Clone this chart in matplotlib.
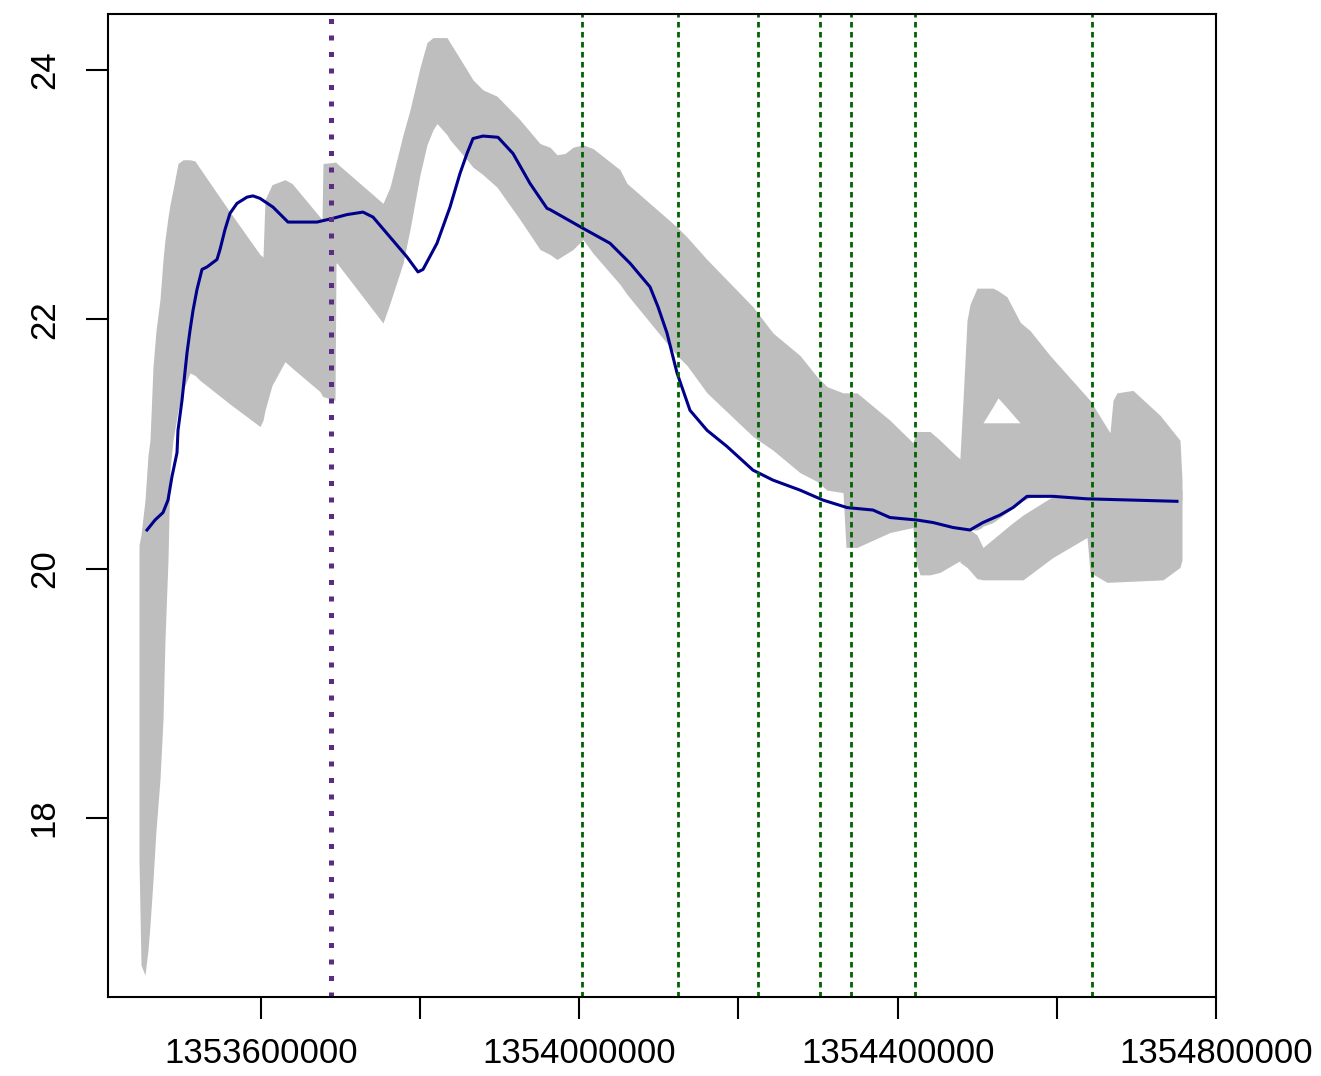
"""
Posterior band with fitted curve and changepoint markers
"""

import numpy as np
import matplotlib
matplotlib.use('Agg')
import matplotlib.pyplot as plt

plt.rcParams['font.family'] = ['Liberation Sans', 'DejaVu Sans']

# Gray band: main part (time, lower, upper)
band_t = [1353446750, 1353449260, 1353454290, 1353458060, 1353460570, 1353464340,
          1353468110, 1353473140, 1353476910, 1353479420, 1353483190, 1353485700,
          1353489470, 1353495760, 1353502040, 1353510830, 1353517120, 1353523400,
          1353561090, 1353598790, 1353602560, 1353605070, 1353613870, 1353630200,
          1353639000, 1353674180, 1353676690, 1353677950, 1353693030, 1353694280,
          1353695540, 1353724440, 1353753340, 1353762130, 1353778470, 1353787260,
          1353799830, 1353808620, 1353816160, 1353821190, 1353833750, 1353837520,
          1353858880, 1353866420, 1353878990, 1353896580, 1353925480, 1353950610,
          1353963170, 1353971970, 1353982020, 1353992070, 1354004640, 1354017200,
          1354051130, 1354059920, 1354122750, 1354135310, 1354160440, 1354218240,
          1354243370, 1354277300, 1354298660, 1354311220, 1354331330, 1354335100,
          1354348920, 1354390380, 1354419280, 1354423050, 1354428080, 1354440640,
          1354453210, 1354474570, 1354480850]
band_hi = [20.19, 20.27, 20.55, 20.91, 21.03, 21.62,
           21.91, 22.16, 22.48, 22.64, 22.82, 22.92,
           23.04, 23.25, 23.28, 23.28, 23.27, 23.21,
           22.86, 22.52, 22.50, 22.96, 23.08, 23.12,
           23.09, 22.82, 22.80, 23.25, 23.26, 23.26,
           23.25, 23.09, 22.93, 23.06, 23.48, 23.68,
           24.02, 24.22, 24.26, 24.26, 24.26, 24.22,
           24.00, 23.92, 23.84, 23.79, 23.60, 23.41,
           23.38, 23.32, 23.33, 23.38, 23.40, 23.37,
           23.20, 23.09, 22.74, 22.66, 22.48, 22.10,
           21.89, 21.71, 21.54, 21.46, 21.41, 21.41,
           21.41, 21.19, 21.01, 21.10, 21.10, 21.10,
           21.03, 20.90, 20.87]
band_lo = [17.66, 16.82, 16.74, 16.94, 17.14, 17.50,
           17.90, 18.31, 18.79, 19.43, 20.07, 20.79,
           21.03, 21.27, 21.43, 21.57, 21.55, 21.51,
           21.32, 21.14, 21.19, 21.27, 21.47, 21.66,
           21.61, 21.42, 21.39, 21.38, 21.35, 22.45,
           22.45, 22.21, 21.97, 22.13, 22.45, 22.72,
           23.16, 23.40, 23.52, 23.57, 23.48, 23.44,
           23.28, 23.22, 23.16, 23.06, 22.80, 22.56,
           22.52, 22.48, 22.52, 22.56, 22.64, 22.53,
           22.28, 22.20, 21.71, 21.63, 21.41, 21.06,
           20.95, 20.77, 20.70, 20.63, 20.61, 20.17,
           20.17, 20.29, 20.33, 20.05, 19.95, 19.95,
           19.97, 20.05, 20.07]

# Gray band: upper lobe at the right end (above the small gap)
lobe1_t = [1354478340, 1354482110, 1354487130, 1354490900, 1354499700, 1354505980,
           1354507240, 1354519800, 1354526090, 1354537390, 1354553730, 1354554990,
           1354566290, 1354591420, 1354641680, 1354666810, 1354670580, 1354675610,
           1354695710, 1354729640, 1354754770, 1354757280]
lobe1_hi = [20.90, 21.35, 21.99, 22.12, 22.25, 22.25,
            22.25, 22.25, 22.23, 22.18, 21.98, 21.97,
            21.91, 21.71, 21.35, 21.09, 21.35, 21.41,
            21.43, 21.23, 21.03, 20.71]
lobe1_lo = [20.35, 20.33, 20.33, 20.31, 20.31, 20.33,
            21.17, 21.30, 21.37, 21.29, 21.17, 20.54,
            20.57, 20.58, 20.56, 20.55, 20.55, 20.55,
            20.55, 20.55, 20.55, 20.55]

# Gray band: part of the upper lobe below the gap
lobe1b_t = [1354503000, 1354519800, 1354537390, 1354558000]
lobe1b_hi = [21.17, 21.17, 21.17, 21.17]
lobe1b_lo = [20.33, 20.37, 20.45, 20.55]

# Gray band: lower lobe at the right end
lobe2_t = [1354478340, 1354487130, 1354499700, 1354507240, 1354541160, 1354557500,
           1354595190, 1354637910, 1354640430, 1354641680, 1354663040, 1354733410,
           1354754770, 1354757280]
lobe2_hi = [20.39, 20.33, 20.27, 20.17, 20.35, 20.43,
            20.58, 20.63, 20.63, 20.63, 20.63, 20.63,
            20.63, 20.63]
lobe2_lo = [20.05, 20.01, 19.92, 19.91, 19.91, 19.91,
            20.09, 20.25, 20.07, 19.97, 19.89, 19.91,
            20.01, 20.07]

# Fitted curve
fit_t = [1353456800, 1353466860, 1353476910, 1353483190, 1353488220, 1353494500,
         1353495760, 1353500780, 1353507060, 1353510830, 1353514600, 1353519630,
         1353525910, 1353532190, 1353544760, 1353548530, 1353554810, 1353561090,
         1353569890, 1353582450, 1353589990, 1353598790, 1353615120, 1353633970,
         1353670410, 1353690510, 1353708100, 1353728210, 1353740770, 1353762130,
         1353783490, 1353797320, 1353803600, 1353821190, 1353837520, 1353850090,
         1353858880, 1353866420, 1353878990, 1353897840, 1353916680, 1353938040,
         1353959400, 1353963170, 1354004640, 1354038560, 1354063690, 1354088820,
         1354098880, 1354110180, 1354122750, 1354139080, 1354160440, 1354185570,
         1354218240, 1354243370, 1354277300, 1354306200, 1354336350, 1354369020,
         1354390380, 1354424310, 1354444410, 1354469540, 1354490900, 1354507240,
         1354528600, 1354544930, 1354562520, 1354595190, 1354637910, 1354751000]
fit_y = [20.31, 20.39, 20.45, 20.55, 20.74, 20.93,
         21.11, 21.35, 21.73, 21.91, 22.07, 22.24,
         22.40, 22.42, 22.48, 22.56, 22.72, 22.85,
         22.93, 22.98, 22.99, 22.97, 22.90, 22.78,
         22.78, 22.81, 22.84, 22.86, 22.82, 22.66,
         22.50, 22.38, 22.40, 22.61, 22.90, 23.17,
         23.33, 23.45, 23.47, 23.46, 23.33, 23.09,
         22.89, 22.88, 22.73, 22.61, 22.45, 22.26,
         22.10, 21.89, 21.57, 21.27, 21.11, 20.98,
         20.79, 20.71, 20.63, 20.55, 20.49, 20.47,
         20.41, 20.39, 20.37, 20.33, 20.31, 20.37,
         20.43, 20.49, 20.58, 20.58, 20.56, 20.54]

# Changepoints
start_point = 1353688000
change_points = [1354003400, 1354124000, 1354224500, 1354302400,
                 1354341400, 1354421800, 1354644200]

x_ticks = [1353600000, 1353800000, 1354000000, 1354200000,
           1354400000, 1354600000, 1354800000]
x_labels = ['1353600000', '', '1354000000', '',
            '1354400000', '', '1354800000']
y_ticks = [18, 20, 22, 24]


def main():
  fig = plt.figure(figsize=(13.21, 10.76), dpi=100)
  ax = fig.add_axes([108/1321, 79/1076, 1108/1321, 983/1076])

  gray = '#BEBEBE'
  ax.fill_between(band_t, band_lo, band_hi, color=gray, lw=0)
  ax.fill_between(lobe1_t, lobe1_lo, lobe1_hi, color=gray, lw=0)
  ax.fill_between(lobe1b_t, lobe1b_lo, lobe1b_hi, color=gray, lw=0)
  ax.fill_between(lobe2_t, lobe2_lo, lobe2_hi, color=gray, lw=0)

  ax.plot(fit_t, fit_y, color='#00008B', lw=2.2)

  ax.axvline(start_point, color='#5B2C83', lw=3.6,
             linestyle=(0, (1, 2.3)), dash_capstyle='butt')
  for cp in change_points:
    ax.axvline(cp, color='#006400', lw=2.0, linestyle=(0, (2, 1.6)),
               dash_capstyle='butt', clip_on=False)

  ax.set_xlim(1353407800, 1354800000)
  ax.set_ylim(16.564, 24.449)
  ax.set_xticks(x_ticks)
  ax.set_xticklabels(x_labels)
  ax.set_yticks(y_ticks)
  ax.set_yticklabels([str(v) for v in y_ticks], rotation=90, va='center')

  ax.tick_params(axis='both', length=16, width=1.5, labelsize=25, color='black')
  ax.tick_params(axis='x', pad=13)
  ax.tick_params(axis='y', pad=18)
  for s in ax.spines.values():
    s.set_linewidth(1.5)

  fig.savefig('out.png', dpi=100)


main()
